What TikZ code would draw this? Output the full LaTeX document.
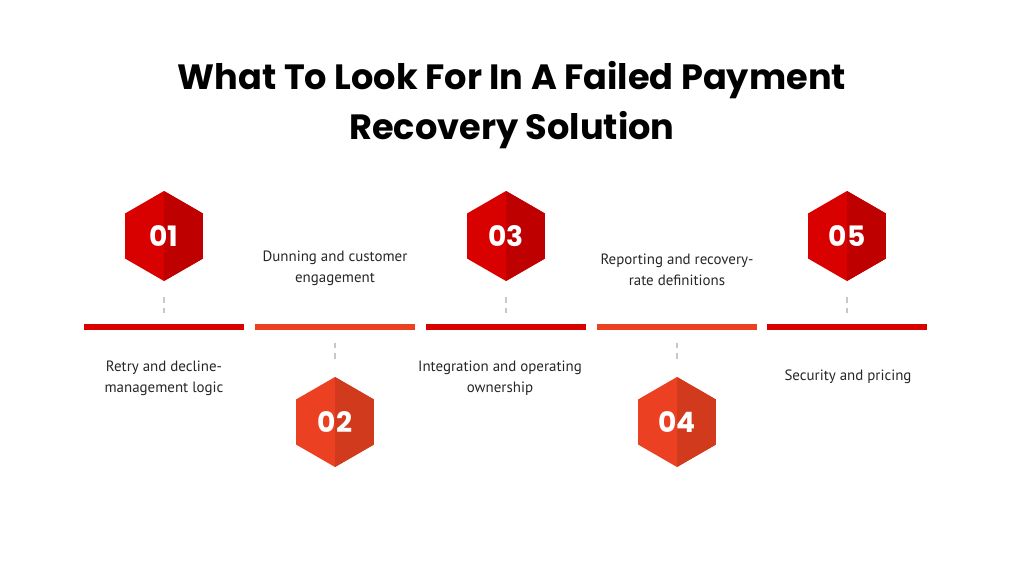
\documentclass[tikz,border=0pt]{standalone}
\usepackage{fontspec}
\setmainfont{PT Sans}
\newfontfamily\titlefont{Poppins}
\usetikzlibrary{shapes.geometric}
\definecolor{redA}{HTML}{D90000}
\definecolor{redB}{HTML}{BF0000}
\definecolor{orgA}{HTML}{EB4021}
\definecolor{orgB}{HTML}{D23A1E}
\definecolor{dashgray}{HTML}{C8C8C8}

\begin{document}
\begin{tikzpicture}[x=0.02cm, y=-0.02cm,
hexa/.style 2 args={regular polygon, regular polygon sides=6, shape border rotate=30,
  minimum size=90*0.02cm, inner sep=0pt, fill=#1, text=white,
  font=\titlefont\bfseries\fontsize{16}{18}\selectfont,
  path picture={\fill[#2] (path picture bounding box.north) rectangle (path picture bounding box.south east);}},
bar/.style={line width=6*0.02cm, draw=#1},
stem/.style={dashgray, dashed, line width=1.2pt},
label/.style={align=center, font=\fontsize{8.5}{12}\selectfont, text=black!85}
]
\useasboundingbox (0,0) rectangle (1012,569);

\node[font=\titlefont\bfseries\fontsize{20}{28}\selectfont, align=center] (title) at (512,105)
  {What To Look For In A Failed Payment\\Recovery Solution};

% timeline segments
\foreach \i/\xa/\xb/\col in {1/84/244/redA, 2/255/415/orgA, 3/426/586/redA, 4/597/757/orgA, 5/767/927/redA}
  \draw[bar=\col] (\xa,327) coordinate (s\i a) -- (\xb,327) coordinate (s\i b);

% hexagons above
\node[hexa={redA}{redB}] (h1) at (164,236) {01};
\node[hexa={redA}{redB}] (h3) at (506,236) {03};
\node[hexa={redA}{redB}] (h5) at (847,236) {05};
% hexagons below
\node[hexa={orgA}{orgB}] (h2) at (335,422) {02};
\node[hexa={orgA}{orgB}] (h4) at (677,422) {04};

\foreach \n in {1,3,5} {
  \coordinate (t\n) at ([yshift=-16*0.02cm]h\n.south);
  \draw[stem] (t\n) -- ++(0,18);
}
\foreach \n in {2,4} {
  \coordinate (t\n) at ([yshift=18*0.02cm]h\n.north);
  \draw[stem] (t\n) -- ++(0,-20);
}

\node[label] (l1) at (164,378) {Retry and decline-\\management logic};
\node[label] (l2) at (335,268) {Dunning and customer\\engagement};
\node[label] (l3) at (500,378) {Integration and operating\\ownership};
\node[label] (l4) at (677,270) {Reporting and recovery-\\rate definitions};
\node[label] (l5) at (848,377) {Security and pricing};
\end{tikzpicture}
\end{document}
